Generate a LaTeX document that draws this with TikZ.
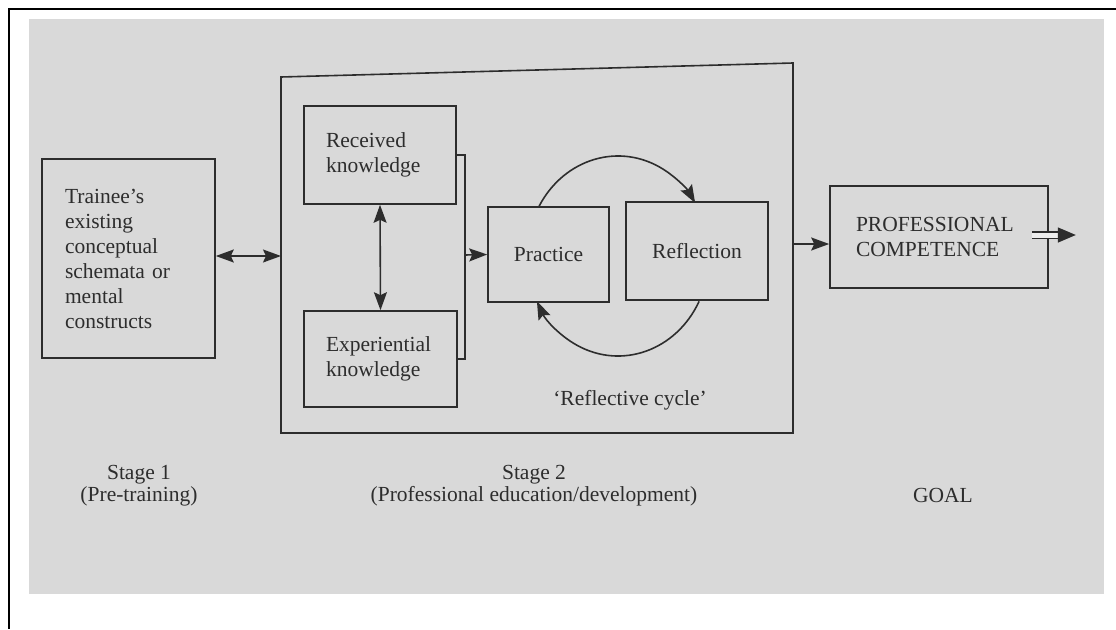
\documentclass[tikz,border=0pt]{standalone}
\usepackage{fontspec}
\setmainfont{Liberation Serif}
\usetikzlibrary{arrows.meta}
\definecolor{ink}{RGB}{45,45,45}
\definecolor{paper}{RGB}{217,217,217}
\definecolor{gap}{RGB}{238,238,238}
\tikzset{
  box/.style={draw=ink, line width=1.6pt, text=ink, inner ysep=0pt, font=\fontsize{21.5}{25}\selectfont},
  lbl/.style={text=ink, align=center, font=\fontsize{21.5}{22}\selectfont},
  link/.style={draw=ink, line width=1.6pt},
}
\begin{document}
\begin{tikzpicture}[x=1pt,y=1pt,>={Stealth[length=18pt,width=13pt,inset=3pt]}]
    \useasboundingbox (0,0) rectangle (1116,-629);
    % photo of the page
    \fill[paper] (29,-19) rectangle (1104,-594);
    \draw[black, line width=2.5pt] (1116,-9.2) -- (9.2,-9.2) -- (9.2,-629);

    % stage 1
    \node[box, minimum width=173pt, minimum height=199pt, text width=127pt, inner xsep=23pt, align=left] (trainee) at (128.5,-258.5)
        {Trainee's\\existing\\conceptual\\schemata or\\mental\\constructs};

    % stage 2 frame
    \coordinate (s2nw) at (281,-77);
    \coordinate (s2ne) at (793,-63);
    \coordinate (s2se) at (793,-433);
    \coordinate (s2sw) at (281,-433);
    \coordinate (s2in) at (281,-256);
    \coordinate (s2out) at (793,-244);
    \draw[link] (s2nw) -- (s2ne) -- (s2se) -- (s2sw) -- cycle;

    \node[box, minimum width=152pt, minimum height=98pt, text width=108pt, inner xsep=22pt, align=left] (received) at (380,-155) {Received\\knowledge};
    \node[box, minimum width=153pt, minimum height=96pt, text width=109pt, inner xsep=22pt, align=left] (experiential) at (380.5,-359) {Experiential\\knowledge};
    \node[box, minimum width=121pt, minimum height=95pt] (practice) at (548.5,-254.5) {Practice};
    \node[box, minimum width=142pt, minimum height=98pt] (reflection) at (697,-251) {Reflection};

    \coordinate (brk) at (465,-255);
    \draw[link] (received.east) -| (brk |- experiential.east) -- (experiential.east);
    \draw[link, ->] (brk) -- (practice.west);
    \draw[link, <->] (received.south) -- (experiential.north);

    % reflective cycle
    \coordinate (cyc) at (618,-256);
    \draw[link, ->] (cyc) ++(150:91 and 100) arc[start angle=150, end angle=32, x radius=91, y radius=100];
    \draw[link, ->] (cyc) ++(-27:91 and 100) arc[start angle=-27, end angle=-153, x radius=91, y radius=100];
    \node[text=ink, font=\fontsize{21.5}{25}\selectfont] (cyclbl) at (630,-400) {`Reflective cycle'};

    % goal
    \node[box, minimum width=218pt, minimum height=102pt, text width=166pt, inner xsep=26pt, align=left] (pc) at (939,-237) {PROFESSIONAL\\COMPETENCE};

    \draw[link, <->] (trainee.east |- s2in) -- (s2in);
    \draw[link, ->] (s2out) -- (s2out -| pc.west);
    \draw[draw=ink, line width=1.4pt, double=gap, double distance=5pt, -{Triangle[length=18pt,width=15pt]}] ([xshift=-17pt,yshift=2pt]pc.east) -- ++(44pt,0);

    % captions
    \node[lbl] (stage1) at (139,-486) {Stage 1\\(Pre-training)};
    \node[lbl] (stage2) at (534,-486) {Stage 2\\(Professional education/development)};
    \node[lbl] (goal) at (943,-495) {GOAL};
\end{tikzpicture}
\end{document}
